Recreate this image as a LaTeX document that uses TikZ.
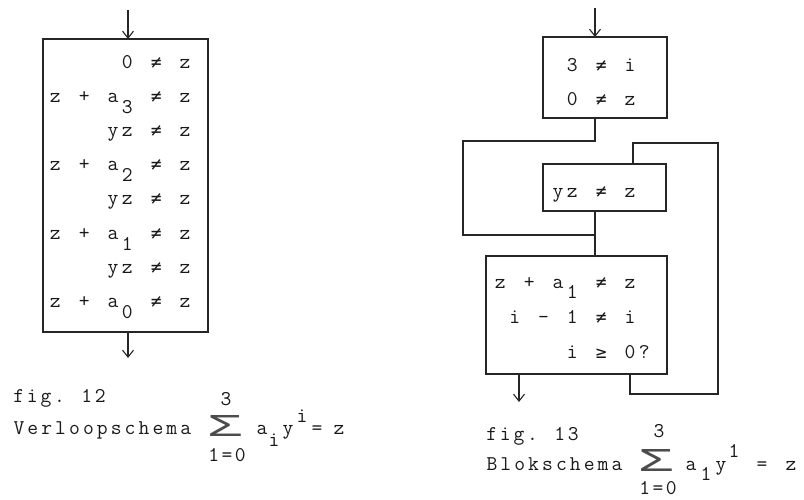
\documentclass[tikz,border=0pt]{standalone}
\usepackage{fontspec}
\usepackage{graphicx}
\usetikzlibrary{arrows.meta}
\newfontfamily\symf{DejaVu Sans Mono}
\newfontfamily\sigf{Liberation Mono}
\newlength\cw
\setlength\cw{14.4pt}
\def\twx#1{\ifx\relax#1\else\makebox[\cw]{#1}\expandafter\twx\fi}
\newcommand\tw[1]{\twx#1\relax}
\newcommand\lo[1]{\raisebox{-11pt}{#1}}
\newcommand\nq{{\symf\fontsize{18}{18}\selectfont ≠}}
\newcommand\gq{{\symf\fontsize{18}{18}\selectfont ≥}}
\tikzset{
  ln/.style={line width=1.1pt, draw=black!85},
  blk/.style={ln, rectangle, inner sep=0pt, outer sep=0pt, anchor=north west},
  txt/.style={inner sep=0pt, outer sep=0pt, text=black!90, font=\ttfamily\fontsize{21}{21}\selectfont},
  arr/.style={ln, -{Straight Barb[length=7pt,width=11pt]}},
  sig/.style={inner sep=0pt, outer sep=0pt, text=black!70, font=\sigf},
}
\begin{document}
\begin{tikzpicture}[x=1pt,y=-1pt]
\useasboundingbox (0,0) rectangle (804,499);
% ---------- fig 12 ----------
\node[blk, minimum width=165pt, minimum height=293pt] (A) at (43,39) {};
\coordinate (Ain) at (128,10);
\coordinate (Aout) at (128,358);
\draw[arr] (Ain) -- (Ain |- A.north);
\draw[arr] (Aout |- A.south) -- (Aout);
\node[txt, anchor=base east] (r1) at (192.2,68)  {\tw{0~\nq~z}};
\node[txt, anchor=base east] (r2) at (192.2,102) {\tw{z~+~a{\lo3}~\nq~z}};
\node[txt, anchor=base east] (r3) at (192.2,136) {\tw{yz~\nq~z}};
\node[txt, anchor=base east] (r4) at (192.2,170) {\tw{z~+~a{\lo2}~\nq~z}};
\node[txt, anchor=base east] (r5) at (192.2,204) {\tw{yz~\nq~z}};
\node[txt, anchor=base east] (r6) at (192.2,239) {\tw{z~+~a{\lo1}~\nq~z}};
\node[txt, anchor=base east] (r7) at (192.2,273) {\tw{yz~\nq~z}};
\node[txt, anchor=base east] (r8) at (192.2,307) {\tw{z~+~a{\lo0}~\nq~z}};
% caption fig 12
\node[txt, anchor=base west] (c1) at (12,402) {\setlength\cw{13.6pt}\tw{fig.~12}};
\node[txt, anchor=base west] (c2) at (12,434) {\setlength\cw{13.9pt}\tw{Verloopschema}};
\node[sig, anchor=north west] (sg1) at (207,415) {\resizebox{35pt}{21pt}{Σ}};
\node[txt, anchor=base] (up1) at (226,405) {3};
\node[txt, anchor=base] (lo1) at (227,461) {\setlength\cw{13.3pt}\tw{1=0}};
\node[txt, anchor=base] (e1) at (262,434) {a};
\node[txt, anchor=base] (e2) at (274,446) {i};
\node[txt, anchor=base] (e3) at (288,434) {y};
\node[txt, anchor=base] (e4) at (302,422) {i};
\node[txt, anchor=base] (e5) at (317,434) {=};
\node[txt, anchor=base] (e6) at (339,434) {z};
% ---------- fig 13 ----------
\node[blk, minimum width=124pt, minimum height=81pt]  (B1) at (543,37) {};
\node[blk, minimum width=123pt, minimum height=47pt]  (B2) at (543,164) {};
\node[blk, minimum width=181pt, minimum height=118pt] (B3) at (486,256) {};
\coordinate (Bin) at (595,8);
\draw[arr] (Bin) -- (Bin |- B1.north);
\coordinate (j1) at (595,141);
\coordinate (j2) at (463,141);
\coordinate (j3) at (463,235);
\coordinate (j4) at (595,235);
\draw[ln] (j1 |- B1.south) -- (j1) -- (j2) -- (j3) -- (j4) -- (j4 |- B3.north);
\draw[ln] (j4 |- B2.south) -- (j4);
\coordinate (l1) at (630,394);
\coordinate (l2) at (718,394);
\coordinate (l3) at (718,143);
\coordinate (l4) at (633,143);
\draw[ln] (l1 |- B3.south) -- (l1) -- (l2) -- (l3) -- (l4) -- (l4 |- B2.north);
\coordinate (Bout) at (519,402);
\draw[arr] (Bout |- B3.south) -- (Bout);
\node[txt, anchor=base east] (s1) at (637.2,71)  {\tw{3~\nq~i}};
\node[txt, anchor=base east] (s2) at (637.2,105) {\tw{0~\nq~z}};
\node[txt, anchor=base east] (s3) at (637.2,197) {\tw{yz~\nq~z}};
\node[txt, anchor=base east] (s4) at (637.2,288) {\tw{z~+~a{\raisebox{-10pt}{1}}~\nq~z}};
\node[txt, anchor=base east] (s5) at (637.2,323) {\tw{i~-~1~\nq~i}};
\node[txt, anchor=base east] (s6) at (651.6,358) {\tw{i~\gq~0?}};
% caption fig 13
\node[txt, anchor=base west] (c3) at (485,440) {\setlength\cw{13.6pt}\tw{fig.~13}};
\node[txt, anchor=base west] (c4) at (485,470) {\setlength\cw{13.9pt}\tw{Blokschema}};
\node[sig, anchor=north west] (sg2) at (638,449) {\resizebox{35pt}{22pt}{Σ}};
\node[txt, anchor=base] (up2) at (659,437) {3};
\node[txt, anchor=base] (lo2) at (658,494) {\setlength\cw{13.3pt}\tw{1=0}};
\node[txt, anchor=base] (f1) at (691,470) {a};
\node[txt, anchor=base] (f2) at (706,480) {1};
\node[txt, anchor=base] (f3) at (721,470) {y};
\node[txt, anchor=base] (f4) at (734,457) {1};
\node[txt, anchor=base] (f5) at (762,470) {=};
\node[txt, anchor=base] (f6) at (791,470) {z};
\end{tikzpicture}
\end{document}
